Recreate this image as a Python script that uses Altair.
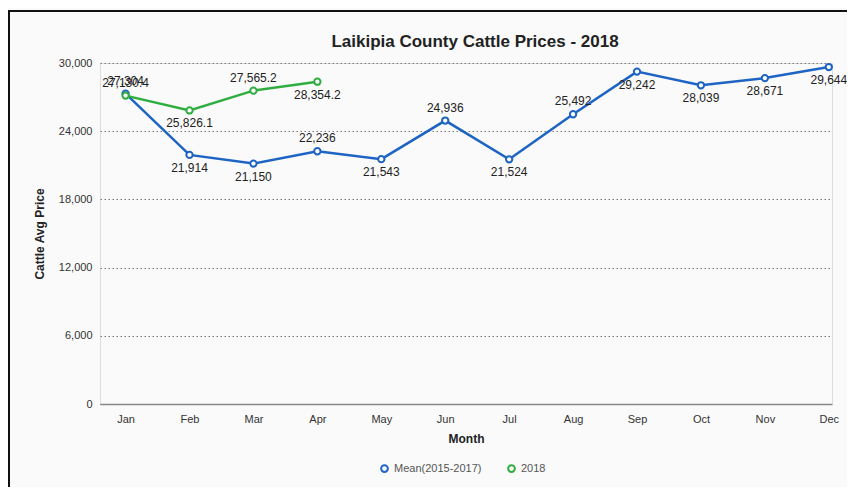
import altair as alt
import pandas as pd

months = ["Jan", "Feb", "Mar", "Apr", "May", "Jun", "Jul", "Aug", "Sep", "Oct", "Nov", "Dec"]
mean_vals = [27304, 21914, 21150, 22236, 21543, 24936, 21524, 25492, 29242, 28039, 28671, 29644]
mean_labels = ["27,304", "21,914", "21,150", "22,236", "21,543", "24,936", "21,524", "25,492",
               "29,242", "28,039", "28,671", "29,644"]
y2018_vals = [27130.4, 25826.1, 27565.2, 28354.2]
y2018_labels = ["27,130.4", "25,826.1", "27,565.2", "28,354.2"]
# which labels sit above their point
above_mean = ["Jan", "Apr", "Jun", "Aug"]
above_2018 = ["Jan", "Mar"]

series_names = ["Mean(2015-2017)", "2018"]
colors = ["#1d64c4", "#2eae3f"]

rows = []
for i, (v, l) in enumerate(zip(mean_vals, mean_labels)):
    rows.append({"m": i + 1, "month": months[i], "price": v, "label": l,
                 "series": series_names[0], "above": months[i] in above_mean})
for i, (v, l) in enumerate(zip(y2018_vals, y2018_labels)):
    rows.append({"m": i + 1, "month": months[i], "price": v, "label": l,
                 "series": series_names[1], "above": months[i] in above_2018})
df = pd.DataFrame(rows)

month_expr = "[" + ",".join(f"'{m}'" for m in months) + "][datum.value - 1]"

FONT = "Liberation Sans"

x = alt.X("m:Q", scale=alt.Scale(domain=[0.6, 12.05], nice=False, zero=False),
          axis=alt.Axis(values=list(range(1, 13)), labelExpr=month_expr, grid=False, ticks=False,
                        domainColor="#888", domainWidth=1.5, labelPadding=9, labelFontSize=11,
                        labelColor="#333", title="Month", titleFontSize=12, titleFontWeight="bold",
                        titleColor="#222", titlePadding=9, labelFont=FONT, titleFont=FONT))
y = alt.Y("price:Q", scale=alt.Scale(domain=[0, 30000], nice=False),
          axis=alt.Axis(values=[0, 6000, 12000, 18000, 24000, 30000], format=",.0f", grid=True,
                        gridDash=[1.5, 2.5], gridColor="#777", gridWidth=1, domain=False, ticks=False,
                        labelPadding=8, labelFontSize=11, labelColor="#333", title="Cattle Avg Price",
                        titleFontSize=12, titleFontWeight="bold", titleColor="#222", titlePadding=12,
                        labelFont=FONT, titleFont=FONT))
color = alt.Color("series:N", scale=alt.Scale(domain=series_names, range=colors),
                  legend=alt.Legend(title=None, orient="none", direction="horizontal",
                                    legendX=279, legendY=400, symbolType="circle",
                                    symbolFillColor="white", symbolStrokeWidth=2, symbolSize=45,
                                    labelFontSize=11, labelColor="#555", labelFont=FONT,
                                    columnPadding=22))

frame = alt.Chart(pd.DataFrame({"a": [0]})).mark_rect(
    fill=None, stroke="#111", strokeWidth=2, clip=False
).encode(x=alt.value(-91), x2=alt.value(750), y=alt.value(-52), y2=alt.value(445))

lines = alt.Chart(df).mark_line(strokeWidth=2.5).encode(x=x, y=y, color=color, detail="series:N")
points = alt.Chart(df).mark_point(filled=True, fill="white", size=40, strokeWidth=2, opacity=1).encode(
    x=x, y=y, stroke=alt.Stroke("series:N", scale=alt.Scale(domain=series_names, range=colors), legend=None))
text_above = alt.Chart(df).transform_filter("datum.above").mark_text(
    dy=-13, fontSize=12, color="#222", font=FONT).encode(x=x, y=y, text="label:N")
text_below = alt.Chart(df).transform_filter("!datum.above").mark_text(
    dy=13, fontSize=12, color="#222", font=FONT).encode(x=x, y=y, text="label:N")

chart = alt.layer(frame, lines, points, text_above, text_below).properties(
    width=732, height=341,
    autosize=alt.AutoSizeParams(type="none"),
    padding={"left": 92, "top": 55, "right": 15, "bottom": 83},
    title=alt.TitleParams("Laikipia County Cattle Prices - 2018", fontSize=17, fontWeight="bold",
                          color="#222", anchor="middle", offset=12, dx=9, dy=53, font=FONT),
).configure_view(stroke=None).configure(background="#fafafa")

chart.save("out.html", embed_options={"renderer": "svg", "actions": False})
